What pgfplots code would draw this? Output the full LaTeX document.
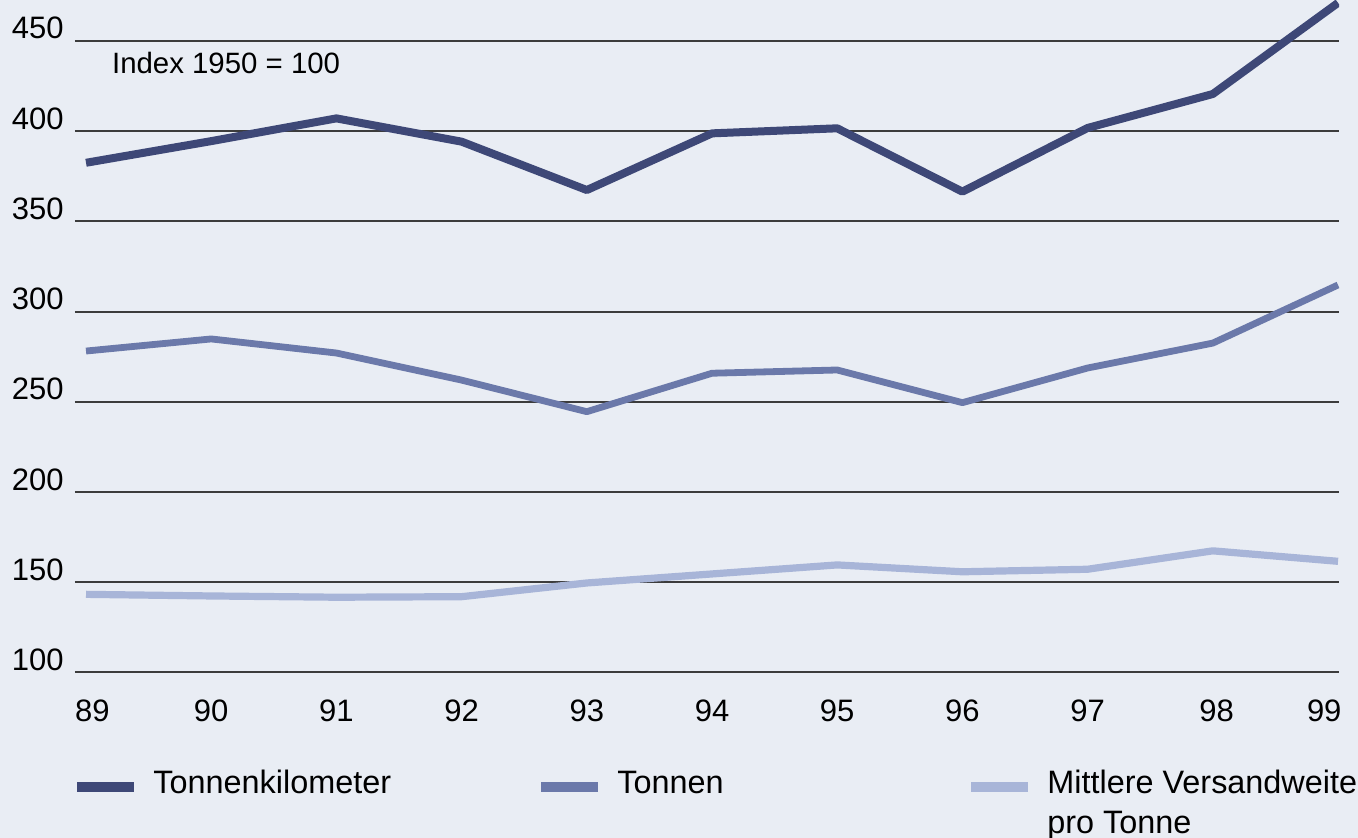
\documentclass[border=0pt]{standalone}
\usepackage{pgfplots}
\pgfplotsset{compat=1.18}
\usepackage{fontspec}
\setmainfont{Liberation Sans}

\definecolor{bgc}{HTML}{E9EDF4}
\definecolor{tkm}{HTML}{3E4877}
\definecolor{ton}{HTML}{6B79AA}
\definecolor{mvw}{HTML}{A8B5D8}
\definecolor{gridc}{HTML}{3C3C3C}

\begin{document}
\fontsize{15.5}{20}\selectfont
\begin{tikzpicture}
	% page = 1358x838 px at 0.5pt per px, axis box lower left at (0,0)
	\path[fill=bgc, use as bounding box] (-37.5pt,-82.75pt) rectangle (641.5pt,336.25pt);

	\begin{axis}[
		scale only axis,
		anchor=south west,
		width=632pt, height=336.25pt,
		xmin=88.912, xmax=99.008,
		ymin=100, ymax=472.6,
		axis line style={draw=none},
		tick style={draw=none},
		ymajorgrids,
		grid style={gridc, line width=1pt},
		ytick={100,150,...,450},
		xtick={89.05,90,91,92,93,94,95,96,97,98.03,98.89},
		xticklabels={89,90,91,92,93,94,95,96,97,98,99},
		/pgf/number format/assume math mode=true,
		yticklabel style={anchor=base east, inner sep=0pt, xshift=-5.5pt, yshift=1pt},
		xticklabel style={anchor=base, inner sep=0pt, yshift=-24.6pt},
		every axis plot/.append style={line join=round},
		legend columns=3,
		legend image code/.code={\draw[#1, line width=5pt] (0pt,3pt) -- (28.5pt,3pt);},
		legend style={
			at={(rel axis cs:0,0)}, anchor=north west,
			xshift=-1.5pt, yshift=-48.5pt,
			draw=none, fill=none, inner sep=0pt,
			font=\fontsize{16.2}{20}\selectfont,
			nodes={inner sep=0pt, anchor=base west},
			/tikz/every odd column/.append style={column sep=7pt},
			/tikz/every even column/.append style={column sep=0pt},
		},
	]

	\addplot[tkm, line width=4pt] coordinates {
		(89,382.4) (90,394.4) (91,407) (92,394.1) (93,367.3) (94,398.7)
		(95,401.5) (96,366.4) (97,401.7) (98,420.5) (99,471)
	};
	\addlegendentry{\makebox[191.5pt][l]{Tonnenkilometer}}

	\addplot[ton, line width=3.4pt] coordinates {
		(89,278.1) (90,284.8) (91,277) (92,262) (93,244.5) (94,265.8)
		(95,267.6) (96,249.5) (97,268.7) (98,282.5) (99,314.7)
	};
	\addlegendentry{\makebox[174.5pt][l]{Tonnen}}

	\addplot[mvw, line width=3.6pt] coordinates {
		(89,143.3) (90,142.4) (91,141.7) (92,142) (93,149.6) (94,154.6)
		(95,159.6) (96,155.8) (97,157.2) (98,167.4) (99,161.6)
	};
	\addlegendentry{\parbox[t]{160pt}{Mittlere Versandweite\\pro Tonne}}

	\node[anchor=base west, inner sep=0pt, font=\fontsize{14.7}{18}\selectfont]
		at (axis cs:89.205,431.6) {Index 1950 = 100};
	\end{axis}
\end{tikzpicture}
\end{document}
